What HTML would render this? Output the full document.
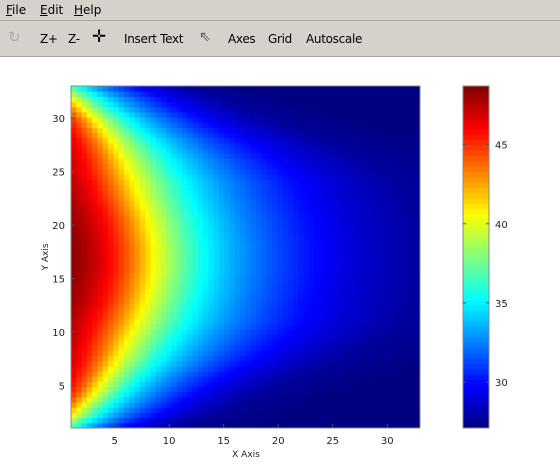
<!DOCTYPE html>
<html><head><meta charset="utf-8"><style>
body{margin:0;width:560px;height:475px;background:#fff;font-family:"DejaVu Sans","Liberation Sans",sans-serif;overflow:hidden;position:relative}
#menubar{position:absolute;left:0;top:0;width:560px;height:20px;background:#d6d2cb;font-size:12px}
#menubar span{position:absolute;top:3px;color:#000}
#toolbar{position:absolute;left:0;top:20px;width:560px;height:35px;background:#d6d2cb;border-top:1px solid #a8a49e;border-bottom:1px solid #a8a49e;font-size:12px;letter-spacing:-0.3px}
#toolbar span{position:absolute;top:11px;color:#000}
svg{position:absolute;left:0;top:0}
</style></head><body>
<div id="menubar">
<span style="left:6px"><u>F</u>ile</span>
<span style="left:40px"><u>E</u>dit</span>
<span style="left:74px"><u>H</u>elp</span>
</div>
<div id="toolbar">
<span style="left:8px;top:7px;font-size:15px;color:#aaa">&#x21BB;</span>
<span style="left:40px">Z+</span>
<span style="left:68px">Z-</span>
<span style="left:92px;top:6px;font-size:17px">&#x271B;</span>
<span style="left:124px">Insert Text</span>
<span style="left:199px;top:8px;font-size:14px;color:#555">&#x21D6;</span>
<span style="left:228px">Axes</span>
<span style="left:268px">Grid</span>
<span style="left:306px">Autoscale</span>
</div>
<svg id="chart" width="560" height="475"></svg>
<script>
// centerline value profile (index = distance from hot edge, in x units)
const profile=[48.5,48,47.3,46.5,45.5,44.3,43,41.5,40,38.8,37.6,36.5,35.5,34.7,34,33.4,32.8,32.3,31.8,31.3,30.9,30.5,30.1,29.8,29.5,29.2,28.9,28.7,28.5,28.3,28.1,27.9,27.7];
// per row y = 1..33: profile offset at x=1 (cooler near top/bottom edges)
const rowOffset=[10.9,7.7,6,4.4,3.6,3,2.6,2.3,2.1,1.8,1.5,1.1,0.7,0.4,0.2,0,0,0,0.2,0.4,0.7,1.1,1.5,1.8,2.1,2.3,2.6,3,3.6,4.4,6,7.7,10.9];
// per row y = 1..33: horizontal stretch of the profile
const rowScale=[0.4,0.5,0.56,0.6,0.66,0.72,0.8,0.86,0.92,0.96,1,1,1,1,1,1,1,1,1,1,1,1,1,1,0.96,0.92,0.86,0.8,0.72,0.66,0.6,0.56,0.5];
const xTicks=[5,10,15,20,25,30];
const yTicks=[5,10,15,20,25,30];
const cTicks=[30,35,40,45];
const cMin=27.1,cMax=48.7;
const NS="http://www.w3.org/2000/svg";
const svg=document.getElementById('chart');
const L=71,R=420,T=86,B=428;
const xs=v=>L+(v-1)/32*(R-L);
const ys=v=>B-(v-1)/32*(B-T);
function jet(t){t=Math.max(0,Math.min(1,t));
const r=Math.max(0,Math.min(1,1.5-Math.abs(4*t-3)));
const g=Math.max(0,Math.min(1,1.5-Math.abs(4*t-2)));
const b=Math.max(0,Math.min(1,1.5-Math.abs(4*t-1)));
return `rgb(${Math.round(r*255)},${Math.round(g*255)},${Math.round(b*255)})`;}
function lerpArr(a,p){if(p<=0)return a[0];const n=a.length-1;if(p>=n)return a[n]-0.05*(p-n);const i=Math.floor(p),f=p-i;return a[i]*(1-f)+a[i+1]*f;}
function valAt(x,y){const sc=lerpArr(rowScale,y-1);const off=lerpArr(rowOffset,y-1);return lerpArr(profile,(x-1)/sc+off);}
function el(tag,attrs){const e=document.createElementNS(NS,tag);for(const k in attrs)e.setAttribute(k,attrs[k]);svg.appendChild(e);return e;}
const N=66,cw=(R-L)/N,ch=(B-T)/N;
for(let yi=0;yi<N;yi++)for(let xi=0;xi<N;xi++){
const xd=1+(xi+0.5)/N*32,yd=1+(yi+0.5)/N*32;
const v=valAt(xd,yd);
const e=el('rect',{x:(L+xi*cw).toFixed(2),y:(B-(yi+1)*ch).toFixed(2),width:(cw+0.5).toFixed(2),height:(ch+0.5).toFixed(2),fill:jet((v-cMin)/(cMax-cMin))});

}
const fr=el('rect',{x:L,y:T,width:R-L,height:B-T,fill:'none',stroke:'#888','stroke-width':1});


xTicks.forEach(t=>{const x=xs(t);
el('line',{x1:x,x2:x,y1:B,y2:B-4,stroke:'#555'});
const tx=el('text',{x:x,y:B+16,'font-size':10,'text-anchor':'middle',fill:'#222'});tx.textContent=t;

});
yTicks.forEach(t=>{const y=ys(t);
el('line',{x1:L,x2:L+4,y1:y,y2:y,stroke:'#555'});
const tx=el('text',{x:L-6,y:y+4,'font-size':10,'text-anchor':'end',fill:'#222'});tx.textContent=t;

});
const xl=el('text',{x:246,y:457,'font-size':9,'text-anchor':'middle',fill:'#222'});xl.textContent='X Axis';


const yl=el('text',{x:0,y:0,'font-size':9,'text-anchor':'middle',fill:'#222',transform:'translate(48,257) rotate(-90)'});yl.textContent='Y Axis';


const CL=463,CR=489;
const cy=v=>B-(v-cMin)/(cMax-cMin)*(B-T);
for(let i=0;i<64;i++){const y0=B-(i+1)*(B-T)/64;
const e=el('rect',{x:CL,y:y0.toFixed(2),width:CR-CL,height:((B-T)/64+0.5).toFixed(2),fill:jet((i+0.5)/64)});

}
const cf=el('rect',{x:CL,y:T,width:CR-CL,height:B-T,fill:'none',stroke:'#888'});


cTicks.forEach(t=>{const y=cy(t);
el('line',{x1:CL,x2:CL+3,y1:y,y2:y,stroke:'#555'});
el('line',{x1:CR-3,x2:CR,y1:y,y2:y,stroke:'#555'});
const tx=el('text',{x:CR+6,y:y+4,'font-size':10,fill:'#222'});tx.textContent=t;

});
</script>
</body></html>
